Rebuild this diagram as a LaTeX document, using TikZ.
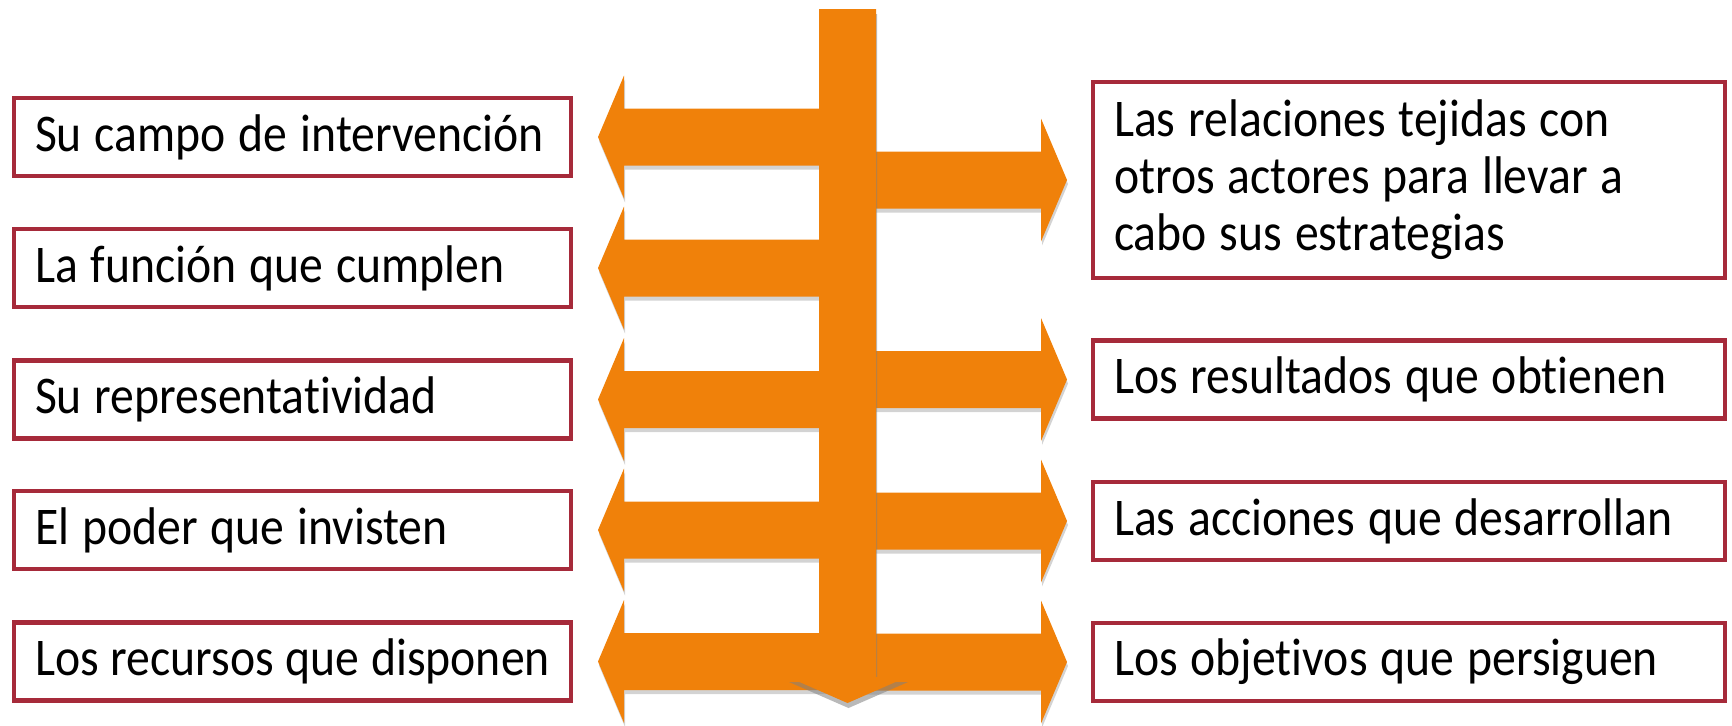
\documentclass[tikz,border=0pt]{standalone}
\usepackage{fontspec}
\setmainfont{Carlito}[FakeStretch=0.9,WordSpace=1.2,Ligatures=NoCommon]
\usetikzlibrary{shadows}
\definecolor{bandorange}{RGB}{240,129,10}
\definecolor{boxred}{RGB}{166,42,58}

\begin{document}
\begin{tikzpicture}[x=0.5pt,y=-0.5pt]
	\tikzset{
		box/.style={draw=boxred, line width=2.2pt, fill=white, inner xsep=10.5pt, inner ysep=0pt, align=flush left, font=\fontsize{26.5}{28.5}\selectfont},
		leftbox/.style={box, text width=257.5pt, minimum height=39pt},
		rightbox/.style={box, text width=295pt, minimum height=39pt},
		band/.style={fill=bandorange, drop shadow={shadow xshift=0.5pt, shadow yshift=-2pt, opacity=0.35}},
		stem/.style={fill=bandorange, drop shadow={shadow xshift=0.5pt, shadow yshift=-2.5pt, opacity=0.55}},
	}
	\useasboundingbox (0,0) rectangle (1732,725);
	% A band runs from the stem out to the box that it points at.
	\def\Left(#1){\fill[band, shift={(0,0 |- #1)}] (829,-28.5) -- (624,-28.5) -- (624,-61.5) -- (598,0) -- (624,61.5) -- (624,28.5) -- (829,28.5) -- cycle;}
	\def\Right(#1){\fill[band, shift={(0,0 |- #1)}] (866,-28.5) -- (1041,-28.5) -- (1041,-61.5) -- (1067,0) -- (1041,61.5) -- (1041,28.5) -- (866,28.5) -- cycle;}
	
	% Place the boxes on the left first.
	\path (292.5,137) node[leftbox] (campo) {Su campo de intervención};
	\path (292.5,268) node[leftbox] (funcion) {La función que cumplen};
	\path (292.5,399.5) node[leftbox] (repr) {Su representatividad};
	\path (292.5,530) node[leftbox] (poder) {El poder que invisten};
	\path (292.5,661.5) node[leftbox] (recursos) {Los recursos que disponen};
	
	% Then the boxes on the right.
	\path (1409,180) node[rightbox, minimum height=98pt] (relaciones) {Las relaciones tejidas con\\otros actores para llevar a\\cabo sus estrategias};
	\path (1409,379.5) node[rightbox] (resultados) {Los resultados que obtienen};
	\path (1409,521) node[rightbox] (acciones) {Las acciones que desarrollan};
	\path (1409,662) node[rightbox] (objetivos) {Los objetivos que persiguen};
	
	% Draw the bands next.
	\Left(campo) \Left(funcion) \Left(repr) \Left(poder) \Left(recursos)
	\Right(relaciones) \Right(resultados) \Right(acciones) \Right(objetivos)
	
	% The stem goes last, on top of the bands.
	\fill[stem] (819,9) -- (876,9) -- (876,677) -- (907,677) -- (847.5,703) -- (788,677) -- (819,677) -- cycle;
\end{tikzpicture}
\end{document}
